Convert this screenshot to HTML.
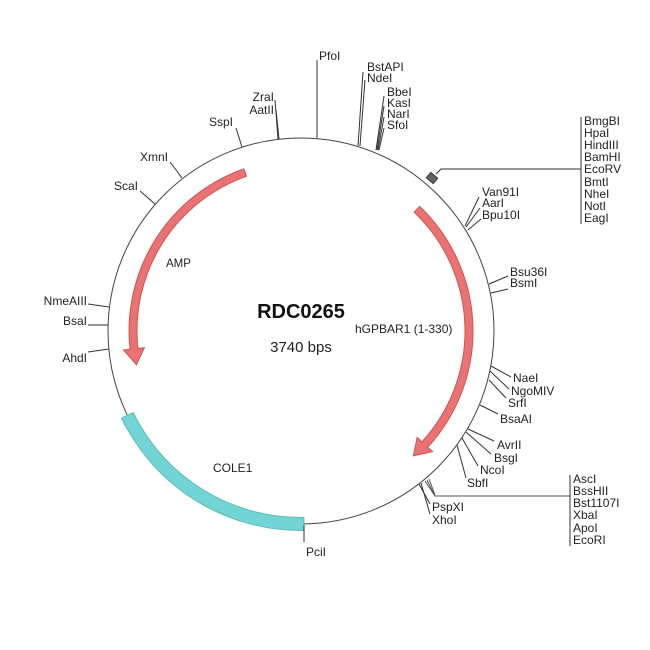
<!DOCTYPE html>
<html><head><meta charset="utf-8"><style>
html,body{margin:0;padding:0;background:#fff;}
svg{display:block;}
text{font-family:"Liberation Sans",Arial,sans-serif;font-size:12px;fill:#222;}
</style></head><body>
<svg width="650" height="650" viewBox="0 0 650 650" xmlns="http://www.w3.org/2000/svg">
<rect width="650" height="650" fill="#fff"/>
<circle cx="301" cy="331" r="193" fill="none" stroke="#444" stroke-width="1"/>

<!-- COLE1 -->
<path d="M304.1,530.5 A199.5,199.5 0 0 1 121.5,418.1 L133.2,412.5 A186.5,186.5 0 0 0 303.9,517.5 Z" fill="#72d4d4" stroke="#5bbcbc" stroke-width="1"/>

<!-- hGPBAR1 arrow -->
<path d="M419.6,206.4 A172,172 0 0 1 427.8,447.2 L432.6,451.6 L413.4,455.8 L417.1,437.4 L421.9,441.8 A164,164 0 0 0 414.1,212.2 Z" fill="#ea7272" stroke="#cc5555" stroke-width="1"/>

<!-- AMP arrow -->
<path d="M243.9,168.8 A172,172 0 0 0 130.0,349.3 L123.5,350.0 L136.4,364.8 L144.4,347.7 L137.9,348.4 A164,164 0 0 1 246.5,176.3 Z" fill="#ea7272" stroke="#cc5555" stroke-width="1"/>

<g stroke="#333" stroke-width="1" fill="none">
<!-- top -->
<line x1="317" y1="138" x2="317" y2="60"/>
<line x1="358" y1="146" x2="363" y2="72"/>
<line x1="360" y1="146" x2="365" y2="80"/>
<line x1="376" y1="150" x2="384" y2="96"/>
<line x1="377" y1="150" x2="384" y2="106"/>
<line x1="378" y1="150" x2="384" y2="117"/>
<line x1="379" y1="150" x2="384" y2="128"/>
<line x1="278" y1="139" x2="275" y2="100"/>
<line x1="279" y1="139" x2="276" y2="110"/>
<line x1="242" y1="147" x2="236" y2="128"/>
<line x1="182" y1="178" x2="170" y2="162"/>
<line x1="155" y1="204" x2="140" y2="191"/>
<!-- left -->
<line x1="109" y1="307" x2="88" y2="304"/>
<line x1="108" y1="325" x2="88" y2="325"/>
<line x1="109" y1="349" x2="88" y2="352"/>
<!-- MCS -->
<polyline points="436,174 441,169 581,169"/>
<line x1="581" y1="117" x2="581" y2="224"/>
<!-- right -->
<line x1="465" y1="226" x2="479" y2="197"/>
<line x1="466" y1="227" x2="480" y2="208"/>
<line x1="468" y1="230" x2="481" y2="219"/>
<line x1="489" y1="284" x2="508" y2="276"/>
<line x1="491" y1="293" x2="508" y2="289"/>
<line x1="491" y1="366" x2="511" y2="377"/>
<line x1="490" y1="371" x2="509" y2="389"/>
<line x1="489" y1="380" x2="506" y2="398"/>
<line x1="480" y1="405" x2="498" y2="414"/>
<line x1="468" y1="429" x2="494" y2="441"/>
<line x1="466" y1="432" x2="491" y2="454"/>
<line x1="462" y1="438" x2="478" y2="466"/>
<line x1="457" y1="445" x2="466" y2="478"/>
<!-- bottom -->
<line x1="419" y1="484" x2="430" y2="504"/>
<line x1="421" y1="483" x2="430" y2="514"/>
<polyline points="425,481 435,496 570,496" stroke="#555"/>
<line x1="427" y1="480" x2="435" y2="496" stroke="#555"/>
<line x1="429" y1="479" x2="435" y2="495" stroke="#555"/>
<line x1="570" y1="475" x2="570" y2="546"/>
<line x1="304" y1="525" x2="304" y2="542"/>
</g>

<!-- MCS box -->
<rect x="427.5" y="174.5" width="9" height="7" fill="#666" stroke="#333" stroke-width="1" transform="rotate(40.6 432 178)"/>

<!-- labels -->
<text x="319" y="60">PfoI</text>
<text x="367" y="71">BstAPI</text>
<text x="367" y="82">NdeI</text>
<text x="387" y="96">BbeI</text>
<text x="387" y="107">KasI</text>
<text x="387" y="118">NarI</text>
<text x="387" y="129">SfoI</text>
<g text-anchor="end">
<text x="274" y="101">ZraI</text>
<text x="274" y="114">AatII</text>
<text x="233" y="126">SspI</text>
<text x="168" y="161">XmnI</text>
<text x="138" y="190">ScaI</text>
<text x="87" y="305">NmeAIII</text>
<text x="87" y="325">BsaI</text>
<text x="87" y="362">AhdI</text>
</g>
<text x="584" y="125">BmgBI</text>
<text x="584" y="137">HpaI</text>
<text x="584" y="149">HindIII</text>
<text x="584" y="161">BamHI</text>
<text x="584" y="173">EcoRV</text>
<text x="584" y="186">BmtI</text>
<text x="584" y="198">NheI</text>
<text x="584" y="210">NotI</text>
<text x="584" y="222">EagI</text>
<text x="482" y="196">Van91I</text>
<text x="482" y="207">AarI</text>
<text x="482" y="219">Bpu10I</text>
<text x="510" y="276">Bsu36I</text>
<text x="510" y="287">BsmI</text>
<text x="513" y="382">NaeI</text>
<text x="511" y="395">NgoMIV</text>
<text x="508" y="407">SrfI</text>
<text x="500" y="423">BsaAI</text>
<text x="497" y="449">AvrII</text>
<text x="494" y="462">BsgI</text>
<text x="480" y="474">NcoI</text>
<text x="467" y="487">SbfI</text>
<text x="432" y="511">PspXI</text>
<text x="432" y="524">XhoI</text>
<text x="573" y="483">AscI</text>
<text x="573" y="495">BssHII</text>
<text x="573" y="507">Bst1107I</text>
<text x="573" y="519">XbaI</text>
<text x="573" y="532">ApoI</text>
<text x="573" y="544">EcoRI</text>
<text x="306" y="556">PciI</text>

<text x="301" y="318" text-anchor="middle" style="font-size:20px;font-weight:bold;fill:#111">RDC0265</text>
<text x="301" y="352" text-anchor="middle" style="font-size:15px">3740 bps</text>
<text x="355" y="333">hGPBAR1 (1-330)</text>
<text x="166" y="267" style="font-size:11.5px">AMP</text>
<text x="213" y="472">COLE1</text>
</svg>
</body></html>
